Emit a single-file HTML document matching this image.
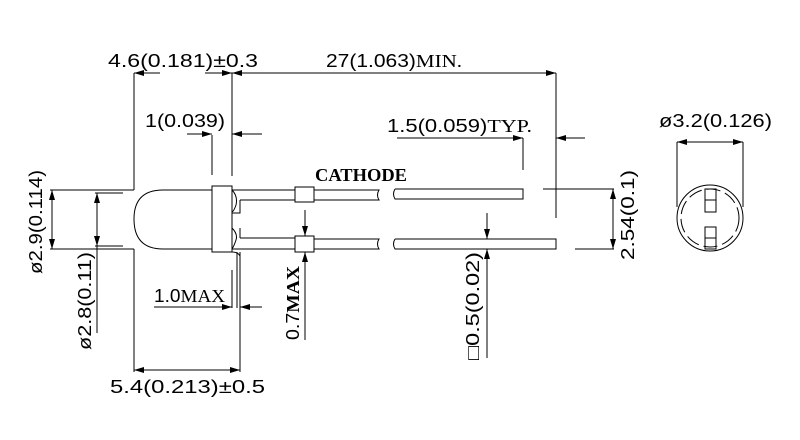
<!DOCTYPE html>
<html><head><meta charset="utf-8"><style>
html,body{margin:0;padding:0;background:#fff;}
svg{display:block;}
text{font-family:"Liberation Sans",sans-serif;fill:#000;}
.s{font-family:"Liberation Serif",serif;font-weight:bold;}
.r{font-family:"Liberation Serif",serif;}
</style></head><body>
<svg width="800" height="440" viewBox="0 0 800 440" xmlns="http://www.w3.org/2000/svg">
<defs>
<marker id="a" viewBox="0 0 10 6" refX="10" refY="3" markerWidth="10" markerHeight="6" markerUnits="userSpaceOnUse" orient="auto">
<path d="M0,0 L10,3 L0,6 z" fill="#000"/></marker>
</defs>
<g stroke="#000" stroke-width="1" fill="none">
<line x1="134" y1="73" x2="134" y2="190"/>
<line x1="232" y1="73" x2="232" y2="176"/>
<line x1="556" y1="73" x2="556" y2="218"/>
<line x1="160" y1="73" x2="134" y2="73" marker-end="url(#a)"/>
<line x1="205" y1="73" x2="232" y2="73" marker-end="url(#a)"/>
<line x1="556" y1="73" x2="232" y2="73" marker-end="url(#a)"/>
<line x1="529" y1="73" x2="556" y2="73" marker-end="url(#a)"/>
<line x1="212" y1="135" x2="212" y2="175"/>
<line x1="187" y1="134" x2="212" y2="134" marker-end="url(#a)"/>
<line x1="262" y1="134" x2="232" y2="134" marker-end="url(#a)"/>
<path d="M212,190 L163,190 Q134,190 134,219 Q134,249 163,249 L212,249"/>
<rect x="212" y="186" width="20" height="66"/>
<line x1="50" y1="190" x2="134" y2="190"/>
<line x1="50" y1="249" x2="134" y2="249"/>
<line x1="95" y1="193" x2="123" y2="193"/>
<line x1="95" y1="246" x2="123" y2="246"/>
<line x1="52" y1="219" x2="52" y2="190" marker-end="url(#a)"/>
<line x1="52" y1="219" x2="52" y2="249" marker-end="url(#a)"/>
<line x1="97" y1="219" x2="97" y2="193" marker-end="url(#a)"/>
<line x1="97" y1="219" x2="97" y2="246" marker-end="url(#a)"/>
<line x1="97" y1="246" x2="97" y2="333"/>
<line x1="134" y1="249" x2="134" y2="372"/>
<line x1="240" y1="252" x2="240" y2="372"/>
<line x1="232" y1="270" x2="232" y2="308"/>
<line x1="237" y1="252" x2="237" y2="308"/>
<line x1="154" y1="307" x2="232" y2="307" marker-end="url(#a)"/>
<line x1="262" y1="307" x2="240" y2="307" marker-end="url(#a)"/>
<line x1="187" y1="370" x2="134" y2="370" marker-end="url(#a)"/>
<line x1="187" y1="370" x2="240" y2="370" marker-end="url(#a)"/>
<path d="M232,190 L295,190 M232,190 Q238,196 236,205 Q234,211 232,212 M240,200 L295,200 M240,200 L240,213 L232,213"/>
<path d="M232,228 Q238,234 236,240 Q234,246 232,249 M240,238 L295,238 M240,228 Q240,238 240,238 M232,252 Q238,252 240,256 M232,249 L295,249"/>
<rect x="295" y="187" width="19" height="15"/>
<rect x="295" y="236" width="19" height="16"/>
<path d="M314,190 L379,190 Q376,195 379,200 L314,200"/>
<path d="M314,239 L379,239 Q376,244 379,249 L314,249"/>
<path d="M395,189 L523,189 L523,199 L395,199 Q392,194 395,189"/>
<path d="M395,239 L556,239 L556,249 L395,249 Q392,244 395,239"/>
<line x1="305" y1="210" x2="305" y2="236" marker-end="url(#a)"/>
<line x1="305" y1="340" x2="305" y2="252" marker-end="url(#a)"/>
<line x1="523" y1="138" x2="523" y2="170"/>
<line x1="397" y1="138" x2="523" y2="138" marker-end="url(#a)"/>
<line x1="585" y1="138" x2="556" y2="138" marker-end="url(#a)"/>
<line x1="487" y1="213" x2="487" y2="239" marker-end="url(#a)"/>
<line x1="487" y1="358" x2="487" y2="249" marker-end="url(#a)"/>
<line x1="543" y1="189" x2="614" y2="189"/>
<line x1="575" y1="249" x2="614" y2="249"/>
<line x1="613" y1="219" x2="613" y2="189" marker-end="url(#a)"/>
<line x1="613" y1="219" x2="613" y2="249" marker-end="url(#a)"/>
<circle cx="710" cy="218" r="33"/>
<circle cx="710" cy="218" r="29" stroke-dasharray="14,5"/>
<line x1="677" y1="142" x2="677" y2="207"/>
<line x1="743" y1="142" x2="743" y2="207"/>
<line x1="710" y1="142" x2="677" y2="142" marker-end="url(#a)"/>
<line x1="710" y1="142" x2="743" y2="142" marker-end="url(#a)"/>
<rect x="705" y="189" width="11" height="23"/>
<line x1="705" y1="200" x2="716" y2="200"/>
<rect x="705" y="227" width="11" height="22"/>
<line x1="705" y1="238" x2="716" y2="238"/>
</g>
<g font-size="18">
<text x="108" y="67" textLength="150" lengthAdjust="spacingAndGlyphs">4.6(0.181)±0.3</text>
<text x="326" y="67" textLength="136" lengthAdjust="spacingAndGlyphs">27(1.063)<tspan class="r">MIN.</tspan></text>
<text x="145" y="127" textLength="80" lengthAdjust="spacingAndGlyphs">1(0.039)</text>
<text x="387" y="132" textLength="145" lengthAdjust="spacingAndGlyphs">1.5(0.059)<tspan class="r">TYP.</tspan></text>
<text x="659" y="127" textLength="113" lengthAdjust="spacingAndGlyphs">ø3.2(0.126)</text>
<text class="s" x="315" y="181" textLength="92" lengthAdjust="spacingAndGlyphs">CATHODE</text>
<text x="154" y="302" textLength="71" lengthAdjust="spacingAndGlyphs">1.0<tspan class="r">MAX</tspan></text>
<text x="110" y="393" textLength="155" lengthAdjust="spacingAndGlyphs">5.4(0.213)±0.5</text>
<text transform="translate(42,222) rotate(-90)" text-anchor="middle" textLength="104" lengthAdjust="spacingAndGlyphs">ø2.9(0.114)</text>
<text transform="translate(91,301) rotate(-90)" text-anchor="middle" textLength="98" lengthAdjust="spacingAndGlyphs">ø2.8(0.11)</text>
<text transform="translate(299,303) rotate(-90)" text-anchor="middle" textLength="74" lengthAdjust="spacingAndGlyphs">0.7<tspan class="s">MAX</tspan></text>
<text transform="translate(479,306) rotate(-90)" text-anchor="middle" textLength="108" lengthAdjust="spacingAndGlyphs">□0.5(0.02)</text>
<text transform="translate(634,215) rotate(-90)" text-anchor="middle" textLength="90" lengthAdjust="spacingAndGlyphs">2.54(0.1)</text>
</g>
</svg>
</body></html>
